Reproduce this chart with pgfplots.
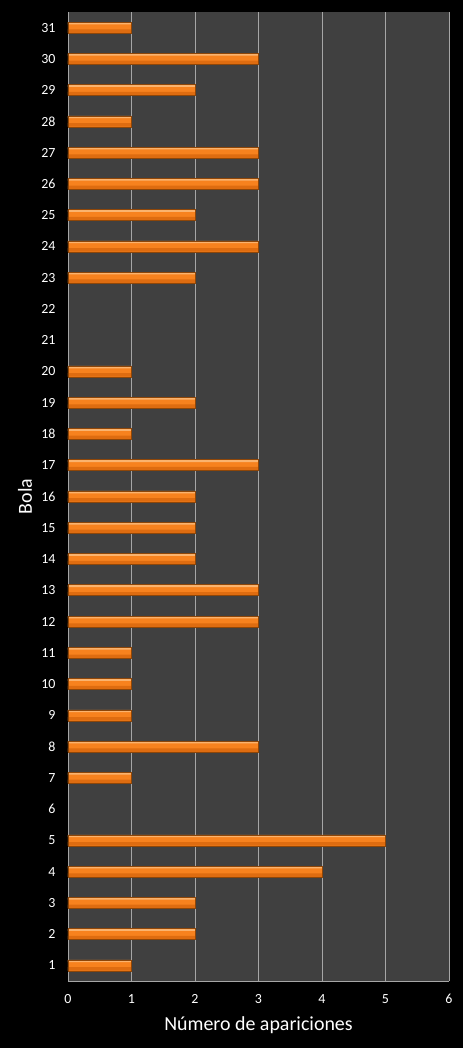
\documentclass[border=0pt]{standalone}
\usepackage{pgfplots}
\pgfplotsset{compat=1.18}
\usepackage{fontspec}
\setmainfont{Carlito}
\definecolor{plotbg}{HTML}{404040}
\definecolor{gridc}{HTML}{A6A6A6}
\definecolor{barmid}{HTML}{F7821E}
\definecolor{bartop}{HTML}{FAB36E}
\definecolor{barbot}{HTML}{DE6C10}
\definecolor{baredge}{HTML}{8E4608}
\pgfplotstableread{
val cat
1 1
2 2
2 3
4 4
5 5
1 7
3 8
1 9
1 10
1 11
3 12
3 13
2 14
2 15
2 16
3 17
1 18
2 19
1 20
2 23
3 24
2 25
3 26
3 27
1 28
2 29
3 30
1 31
}\bolas
\begin{document}
\begin{tikzpicture}
\fill[black] (-68bp,-67bp) rectangle (395bp,981bp);
\begin{axis}[
  at={(0,0)}, anchor=south west,
  scale only axis, width=381bp, height=969bp,
  xmin=0, xmax=6, ymin=0.5, ymax=31.5,
  xtick={0,...,6}, ytick={1,...,31},
  xmajorgrids,
  major grid style={draw=gridc, line width=0.75bp},
  axis background/.style={fill=plotbg},
  axis x line*=bottom, axis y line*=left,
  axis line style={draw=gridc, line width=0.75bp, -},
  major tick length=0pt,
  tick style={draw=none},
  ticklabel style={text=white, font=\fontsize{14}{14}\selectfont},
  /pgf/number format/assume math mode=true,
  xticklabel style={yshift=-10bp},
  yticklabel style={xshift=-9bp},
  xlabel={Número de apariciones},
  ylabel={Bola},
  label style={text=white, font=\fontsize{20}{20}\selectfont},
  xlabel style={at={(axis description cs:0.5,0)}, anchor=center, yshift=-44bp},
  ylabel style={at={(axis description cs:-0.113,0.5)}, anchor=center},
]
\addplot[xbar, bar width=11bp, bar shift=0pt, fill=barmid, draw=none] table[x=val, y=cat] {\bolas};
\addplot[xbar, bar width=2bp, bar shift=4.2bp, fill=bartop, draw=none] table[x=val, y=cat] {\bolas};
\addplot[xbar, bar width=3.5bp, bar shift=-3.5bp, fill=barbot, draw=none] table[x=val, y=cat] {\bolas};
\addplot[xbar, bar width=11bp, bar shift=0pt, fill=none, draw=baredge, line width=0.6bp] table[x=val, y=cat] {\bolas};
\end{axis}
\end{tikzpicture}
\end{document}
